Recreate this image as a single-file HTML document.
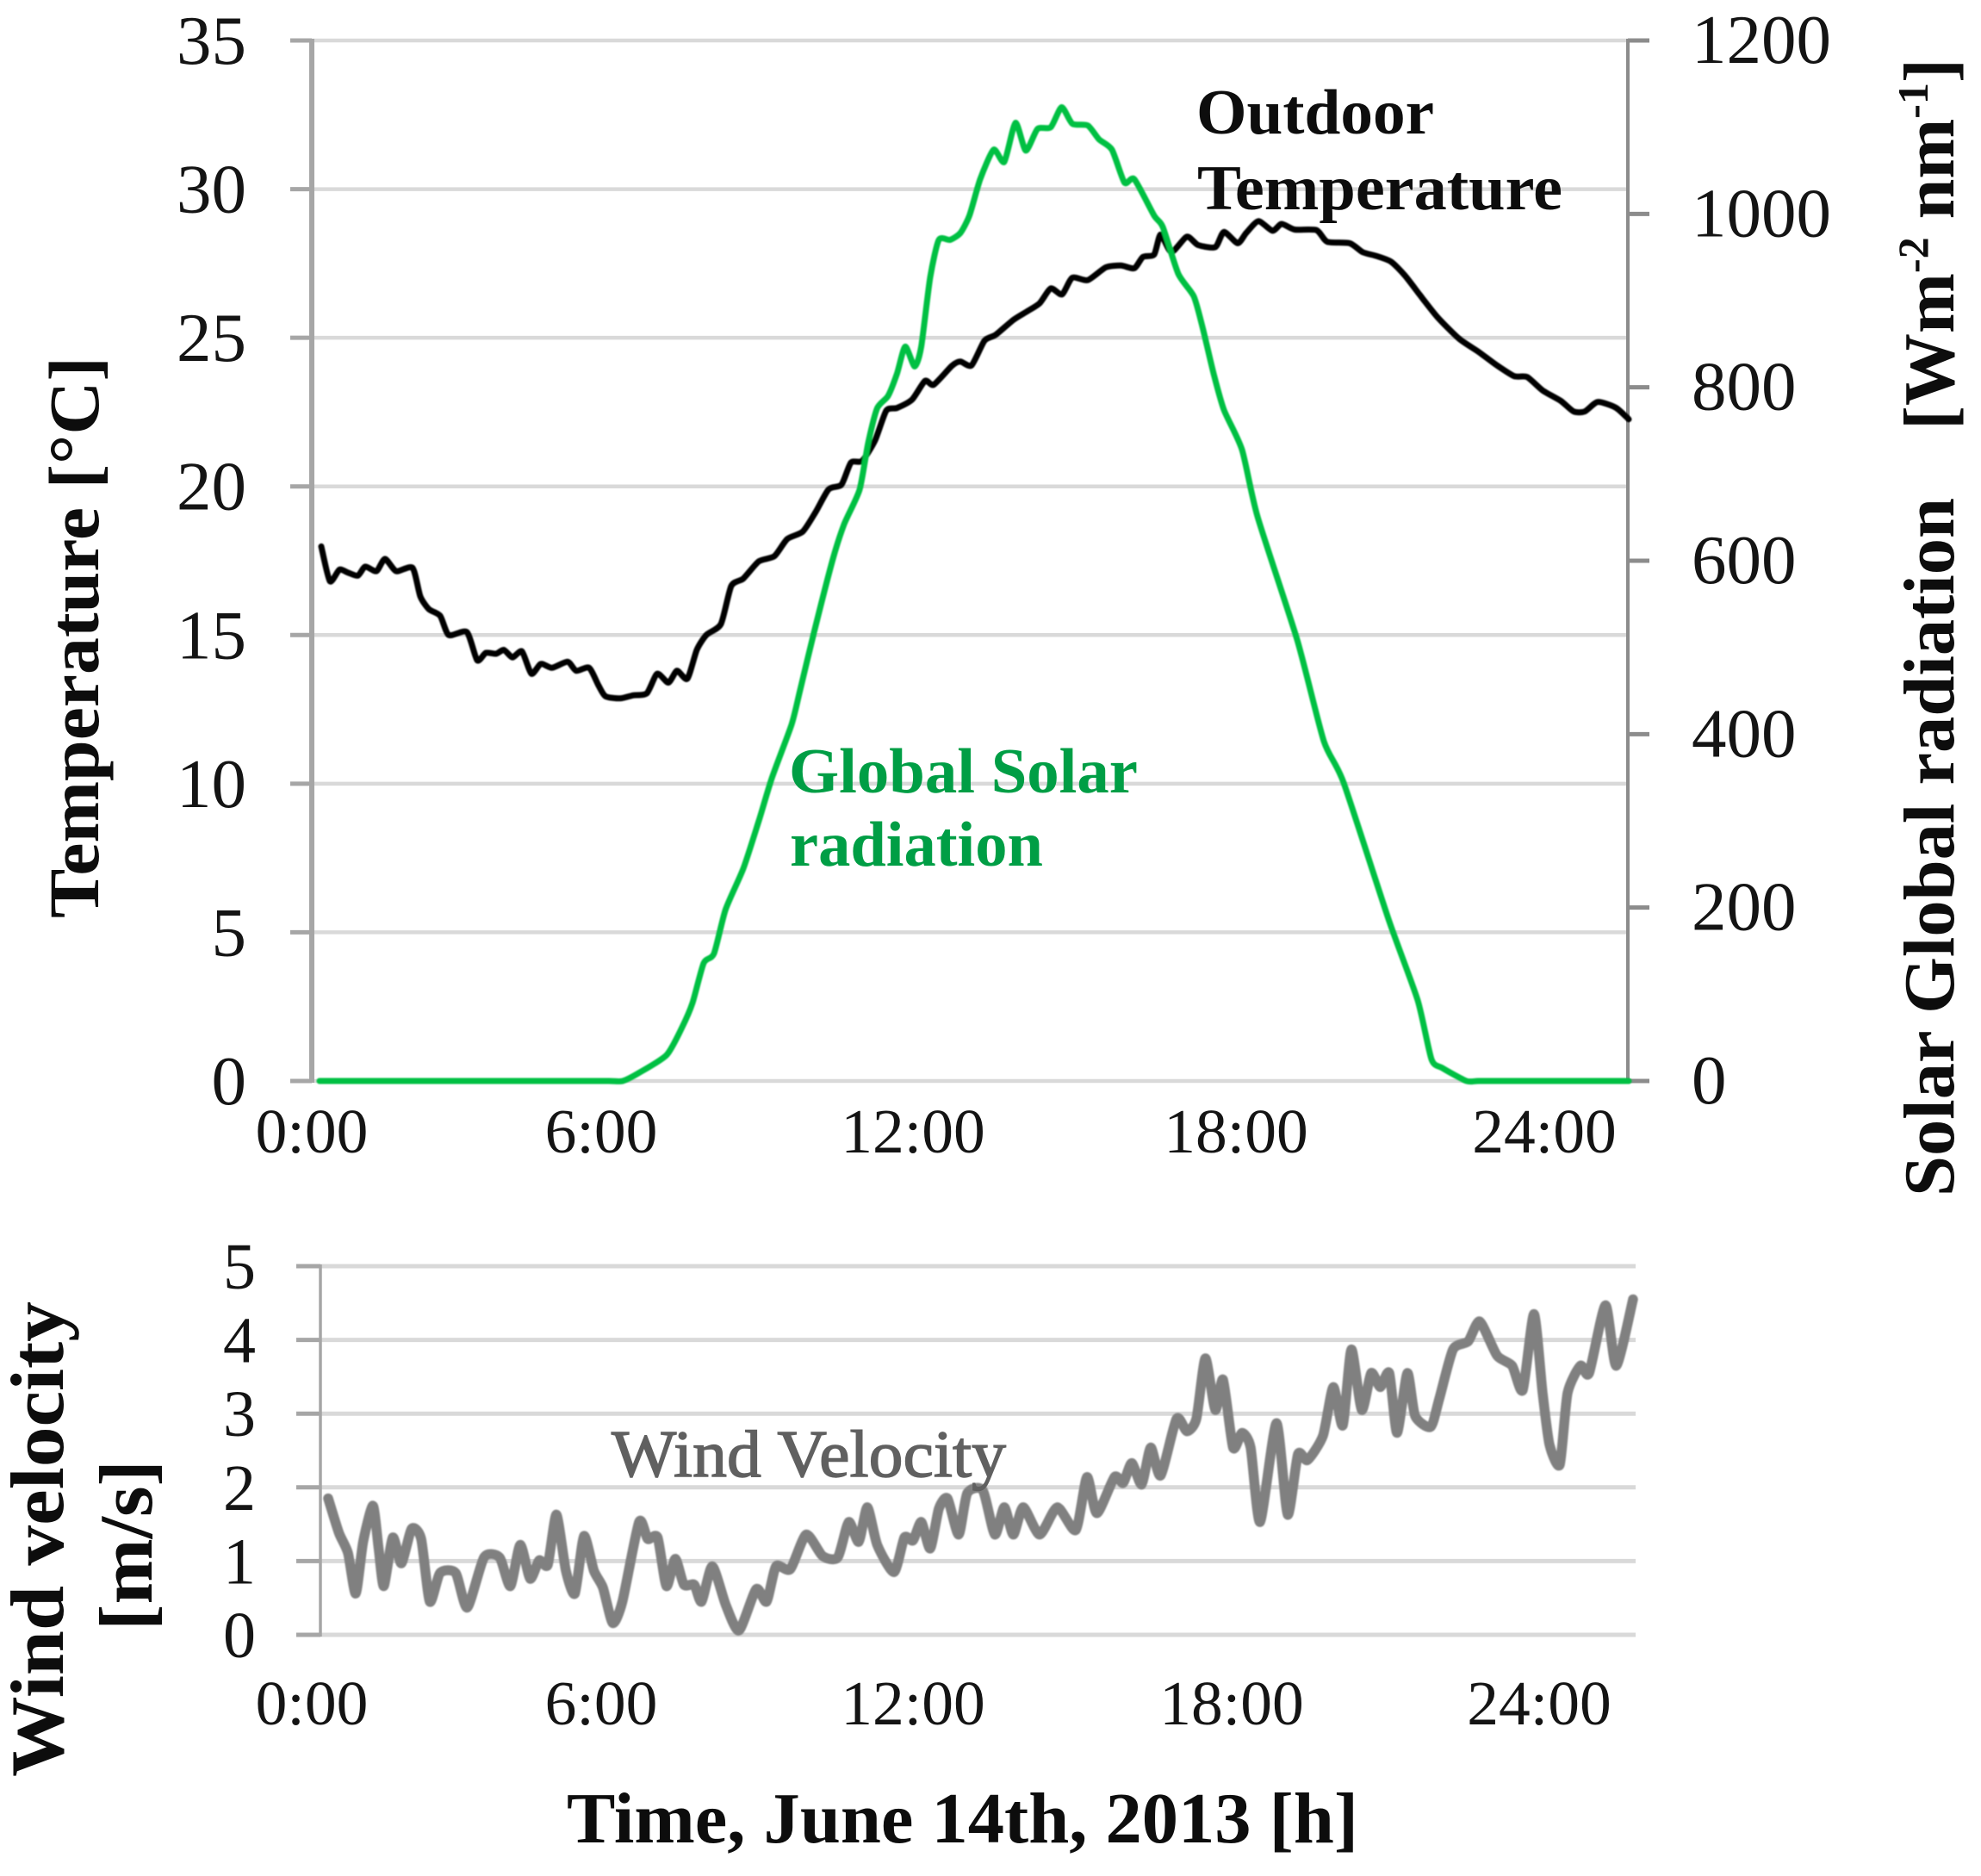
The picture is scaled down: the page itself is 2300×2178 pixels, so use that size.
<!DOCTYPE html>
<html lang="en">
<head>
<meta charset="utf-8">
<title>Temperature, solar radiation and wind velocity, June 14th 2013</title>
<style>
  html, body { margin: 0; padding: 0; background: #ffffff; }
  svg { display: block; font-family: "Liberation Serif", serif; }
  .tick { font-size: 81px; fill: #141414; }
  .xtick { font-size: 73.5px; fill: #141414; }
  .wtick { font-size: 76px; fill: #141414; }
  .title { font-weight: bold; fill: #0d0d0d; }
</style>
</head>
<body>
<svg id="chart" xmlns="http://www.w3.org/2000/svg" width="2300" height="2178" viewBox="0 0 2300 2178">
  <defs>
    <filter id="soft-edge" x="-5%" y="-5%" width="110%" height="110%">
      <feGaussianBlur stdDeviation="0.7"/>
    </filter>
  </defs>
  <rect x="0" y="0" width="2300" height="2178" fill="#ffffff"/>
  <g id="layer-grid"></g>
  <g id="layer-axes"></g>
  <g id="layer-series" filter="url(#soft-edge)"></g>
  <g id="layer-labels"></g>

  <text class="title" font-size="83" transform="translate(114,1066) rotate(-90)" textLength="652" lengthAdjust="spacingAndGlyphs">Temperature [°C]</text>
  <text class="title" font-size="84" transform="translate(2268,1389) rotate(-90)" textLength="811" lengthAdjust="spacingAndGlyphs">Solar Global radiation</text>
  <text class="title" font-size="84" transform="translate(2268,499) rotate(-90)">[Wm<tspan font-size="50" dy="-30">-2</tspan><tspan dy="30"> nm</tspan><tspan font-size="50" dy="-30">-1</tspan><tspan dy="30">]</tspan></text>
  <text class="title" font-size="88" transform="translate(73,2063) rotate(-90)" textLength="552" lengthAdjust="spacingAndGlyphs">Wind velocity</text>
  <text class="title" font-size="88" transform="translate(176,1893) rotate(-90)" textLength="198" lengthAdjust="spacingAndGlyphs">[m/s]</text>
  <text class="title" font-size="84" x="658" y="2139" textLength="919" lengthAdjust="spacingAndGlyphs">Time, June 14th, 2013 [h]</text>

  <text font-size="74.5" font-weight="bold" fill="#0d0d0d" x="1389" y="155" textLength="276" lengthAdjust="spacingAndGlyphs">Outdoor</text>
  <text font-size="74.5" font-weight="bold" fill="#0d0d0d" x="1390" y="243" textLength="424" lengthAdjust="spacingAndGlyphs">Temperature</text>
  <text font-size="74.5" font-weight="bold" fill="#009e45" x="916" y="920" textLength="405" lengthAdjust="spacingAndGlyphs">Global Solar</text>
  <text font-size="74.5" font-weight="bold" fill="#009e45" x="917" y="1005">radiation</text>
  <text font-size="77" fill="#606060" stroke="#606060" stroke-width="1.4" x="710" y="1714" textLength="458" lengthAdjust="spacingAndGlyphs">Wind Velocity</text>
</svg>

<script>
// Outdoor temperature: minutes on the plot's time scale, degrees C
const tempMinutes = [11,21,32,42,53.5,62,75,85,98,117,126,136,149,159,180,192,202,214,223,233,244,255,266,279,297,307,322,333,341,358,373,389,401,414,424,436,447,458,475,487,501,519,537,552,570,585,600,615,626,639,654,667,679.5,697,712,722,743,753,766,781,794,814.5,830,845,858,871,883,901,922,939.5,955,965,978,985.5,998,1016,1029,1049,1059,1075,1085,1099,1115.5,1126,1141,1166.5,1179,1205,1220,1235,1253,1269,1286,1307,1332,1355,1376,1396,1411,1429,1450,1465,1478,1493,1514,1529];
const tempValues = [17.98,16.81,17.2,17.1,17.0,17.3,17.15,17.56,17.15,17.26,16.3,15.87,15.65,15.0,15.1,14.15,14.4,14.37,14.5,14.25,14.45,13.7,14.03,13.9,14.1,13.8,13.9,13.3,12.94,12.87,12.97,13.04,13.7,13.4,13.8,13.53,14.5,15.0,15.37,16.65,16.9,17.48,17.65,18.23,18.48,19.14,19.9,20.06,20.8,20.86,21.55,22.55,22.64,22.92,23.55,23.42,24.05,24.2,24.07,24.9,25.1,25.6,25.88,26.16,26.66,26.46,27.02,26.94,27.37,27.43,27.34,27.72,27.8,28.47,27.88,28.4,28.12,28.05,28.56,28.18,28.53,28.92,28.6,28.83,28.64,28.62,28.23,28.18,27.88,27.76,27.56,27.1,26.46,25.69,24.97,24.52,24.07,23.71,23.68,23.23,22.88,22.52,22.52,22.84,22.65,22.26];

// Global solar radiation: minutes, W m-2 nm-1
const solarMinutes = [9,100,200,300,345,361,381,412,429.5,442,455,467,480.5,501,519,534,557,567,583,605,618,636,646,656.5,669,679.5,689,700,707.6,718,728,741,753,763.5,776,791.6,804,817,829,842.6,858,870.6,883,901,914,929,943.6,955,978,988,1006,1024,1034,1047,1059,1080,1098,1144,1175,1198,1251,1284,1300,1312.5,1340.5,1355,1400,1480,1529];
const solarValues = [0,0,0,0,0,0,10,30,61,90,136,147,198,245,300,349,411,451,517,602,642,682,736,776,790,816,847,824,847,927,970,970,978,998,1040,1074,1060,1105,1073,1098,1100,1123,1104,1102,1086,1074,1036,1040,998,985,931,905,870,816,774,728,651,509,392,344,184,93,25,15,0,0,0,0,0];

// Wind velocity: minutes, m/s
const windMinutes = [19,31.6,42,51,59.6,71,77.5,83.6,94,104,116,127,137,149,167,180.5,200,218,230.5,242,253.5,264,274,284,295,305.5,316,327.5,338,349.4,360.6,380,390,401.5,411.7,422,432,444,452.5,465,480.5,496,516,528,539,555.5,574,593,610.6,623.4,635,645,656.5,676,688,698,707.6,718,728,738,751,761,779,793,804,814.5,826,845,865.5,887,900,911.5,932,942,952,963.5,974,985.5,1004,1016,1027,1037.5,1049,1058,1069.6,1080,1090,1101,1120,1133,1145,1156,1174,1186,1197,1207,1219,1230,1240.5,1251,1260,1272,1281,1299,1309,1325,1342.6,1356,1376,1393.6,1406,1419,1429,1437,1449,1458,1473,1483,1502,1514.5,1534];
const windValues = [1.85,1.38,1.11,0.56,1.26,1.75,1.18,0.66,1.32,0.97,1.44,1.30,0.45,0.84,0.84,0.37,1.05,1.05,0.66,1.22,0.76,1.01,0.95,1.63,0.87,0.56,1.34,0.87,0.64,0.16,0.45,1.53,1.30,1.32,0.66,1.03,0.68,0.68,0.45,0.93,0.41,0.06,0.62,0.45,0.93,0.89,1.36,1.07,1.05,1.53,1.26,1.73,1.22,0.85,1.32,1.28,1.53,1.17,1.71,1.85,1.36,1.92,1.96,1.36,1.73,1.36,1.73,1.36,1.73,1.42,2.14,1.65,2.14,2.06,2.33,2.04,2.54,2.16,2.93,2.76,2.93,3.75,3.05,3.46,2.54,2.74,2.54,1.53,2.87,1.63,2.45,2.37,2.70,3.36,2.84,3.87,3.05,3.55,3.36,3.55,2.74,3.55,2.97,2.82,3.2,3.87,3.98,4.25,3.79,3.65,3.32,4.35,3.28,2.58,2.31,3.28,3.65,3.55,4.47,3.65,4.55];

// Axis ticks and labels
const tempTicks = [0,5,10,15,20,25,30,35];
const solarTicks = [0,200,400,600,800,1000,1200];
const windTicks = [0,1,2,3,4,5];
const timeLabels = ['0:00','6:00','12:00','18:00','24:00'];
// Label anchors on the minute scale, as printed in the source figure
const topLabelMinutes = [0,336,698,1073,1431];
const bottomLabelMinutes = [0,336,698,1068,1425];

// Axis functions
function xTime(m) { return 362 + m; }
function yTemp(v) { return 1255 - v * (1208 / 35); }
function ySolar(v) { return 1255 - v * (1208 / 1200); }
function yWind(v) { return 1898 - v * (428 / 5); }

const NS = 'http://www.w3.org/2000/svg';
const gridLayer = document.getElementById('layer-grid');
const axesLayer = document.getElementById('layer-axes');
const seriesLayer = document.getElementById('layer-series');
const labelLayer = document.getElementById('layer-labels');

function drawLine(parent, x1, y1, x2, y2, color, width) {
  const l = document.createElementNS(NS, 'line');
  l.setAttribute('x1', x1);
  l.setAttribute('y1', y1);
  l.setAttribute('x2', x2);
  l.setAttribute('y2', y2);
  l.setAttribute('stroke', color);
  l.setAttribute('stroke-width', width);
  parent.appendChild(l);
  return l;
}
function drawText(str, x, y, cls, anchor) {
  const t = document.createElementNS(NS, 'text');
  t.setAttribute('x', x);
  t.setAttribute('y', y);
  t.setAttribute('class', cls);
  t.setAttribute('text-anchor', anchor);
  t.textContent = str;
  labelLayer.appendChild(t);
  return t;
}
function smoothPath(px, py) {
  // Light Catmull-Rom smoothing through the data points
  const k = 1 / 9;
  let d = 'M' + px[0].toFixed(1) + ' ' + py[0].toFixed(1);
  for (let i = 0; i < px.length - 1; i++) {
    const a = Math.max(i - 1, 0), b = Math.min(i + 2, px.length - 1);
    const c1x = px[i] + (px[i + 1] - px[a]) * k;
    const c1y = py[i] + (py[i + 1] - py[a]) * k;
    const c2x = px[i + 1] - (px[b] - px[i]) * k;
    const c2y = py[i + 1] - (py[b] - py[i]) * k;
    d += 'C' + c1x.toFixed(1) + ' ' + c1y.toFixed(1) + ' ' + c2x.toFixed(1) + ' ' + c2y.toFixed(1) + ' ' + px[i + 1].toFixed(1) + ' ' + py[i + 1].toFixed(1);
  }
  return d;
}
function drawSeries(xs, ys, xf, yf, color, width) {
  const p = document.createElementNS(NS, 'path');
  p.setAttribute('d', smoothPath(xs.map(xf), ys.map(yf)));
  p.setAttribute('fill', 'none');
  p.setAttribute('stroke', color);
  p.setAttribute('stroke-width', width);
  p.setAttribute('stroke-linejoin', 'round');
  p.setAttribute('stroke-linecap', 'round');
  seriesLayer.appendChild(p);
  return p;
}

// Top chart: temperature axis
tempTicks.forEach(function (v) {
  const y = yTemp(v);
  const g = drawLine(gridLayer, 362, y, 1890, y, '#d9d9d9', 4.5);
  
  
  const tk = drawLine(axesLayer, 337, y, 362, y, '#a6a6a6', 5);
  
  
  const t = drawText(String(v), 286, y + 27, 'tick', 'end');
  
  
});

// Top chart: solar axis
solarTicks.forEach(function (v) {
  const y = ySolar(v);
  const tk = drawLine(axesLayer, 1890, y, 1915, y, '#8c8c8c', 5);
  
  
  const t = drawText(String(v), 1964, y + 26, 'tick', 'start');
  
  
});

const leftAxis = drawLine(axesLayer, 362, yTemp(35) - 2, 362, yTemp(0) + 2, '#a6a6a6', 6);


const rightAxis = drawLine(axesLayer, 1890, ySolar(1200) - 2, 1890, ySolar(0) + 2, '#8c8c8c', 4);



// Bottom chart: wind axis
windTicks.forEach(function (v) {
  const y = yWind(v);
  const g = drawLine(gridLayer, 372, y, 1899, y, '#d9d9d9', 5);
  
  
  const tk = drawLine(axesLayer, 344, y, 372, y, '#a6a6a6', 5);
  
  
  const t = drawText(String(v), 297, y + 26, 'wtick', 'end');
  
  
});
const windAxis = drawLine(axesLayer, 372, yWind(5) - 2, 372, yWind(0) + 2, '#a6a6a6', 3.5);



// Time labels
timeLabels.forEach(function (s, i) {
  const a = drawText(s, xTime(topLabelMinutes[i]), 1338, 'xtick', 'middle');
  
  
  const b = drawText(s, xTime(bottomLabelMinutes[i]), 2002, 'xtick', 'middle');
  
  
});

// Series
const tempLine = drawSeries(tempMinutes, tempValues, xTime, yTemp, '#000000', 7);


const solarLine = drawSeries(solarMinutes, solarValues, xTime, ySolar, '#00c043', 7);


const windLine = drawSeries(windMinutes, windValues, xTime, yWind, '#808080', 11.5);


</script>
</body>
</html>
